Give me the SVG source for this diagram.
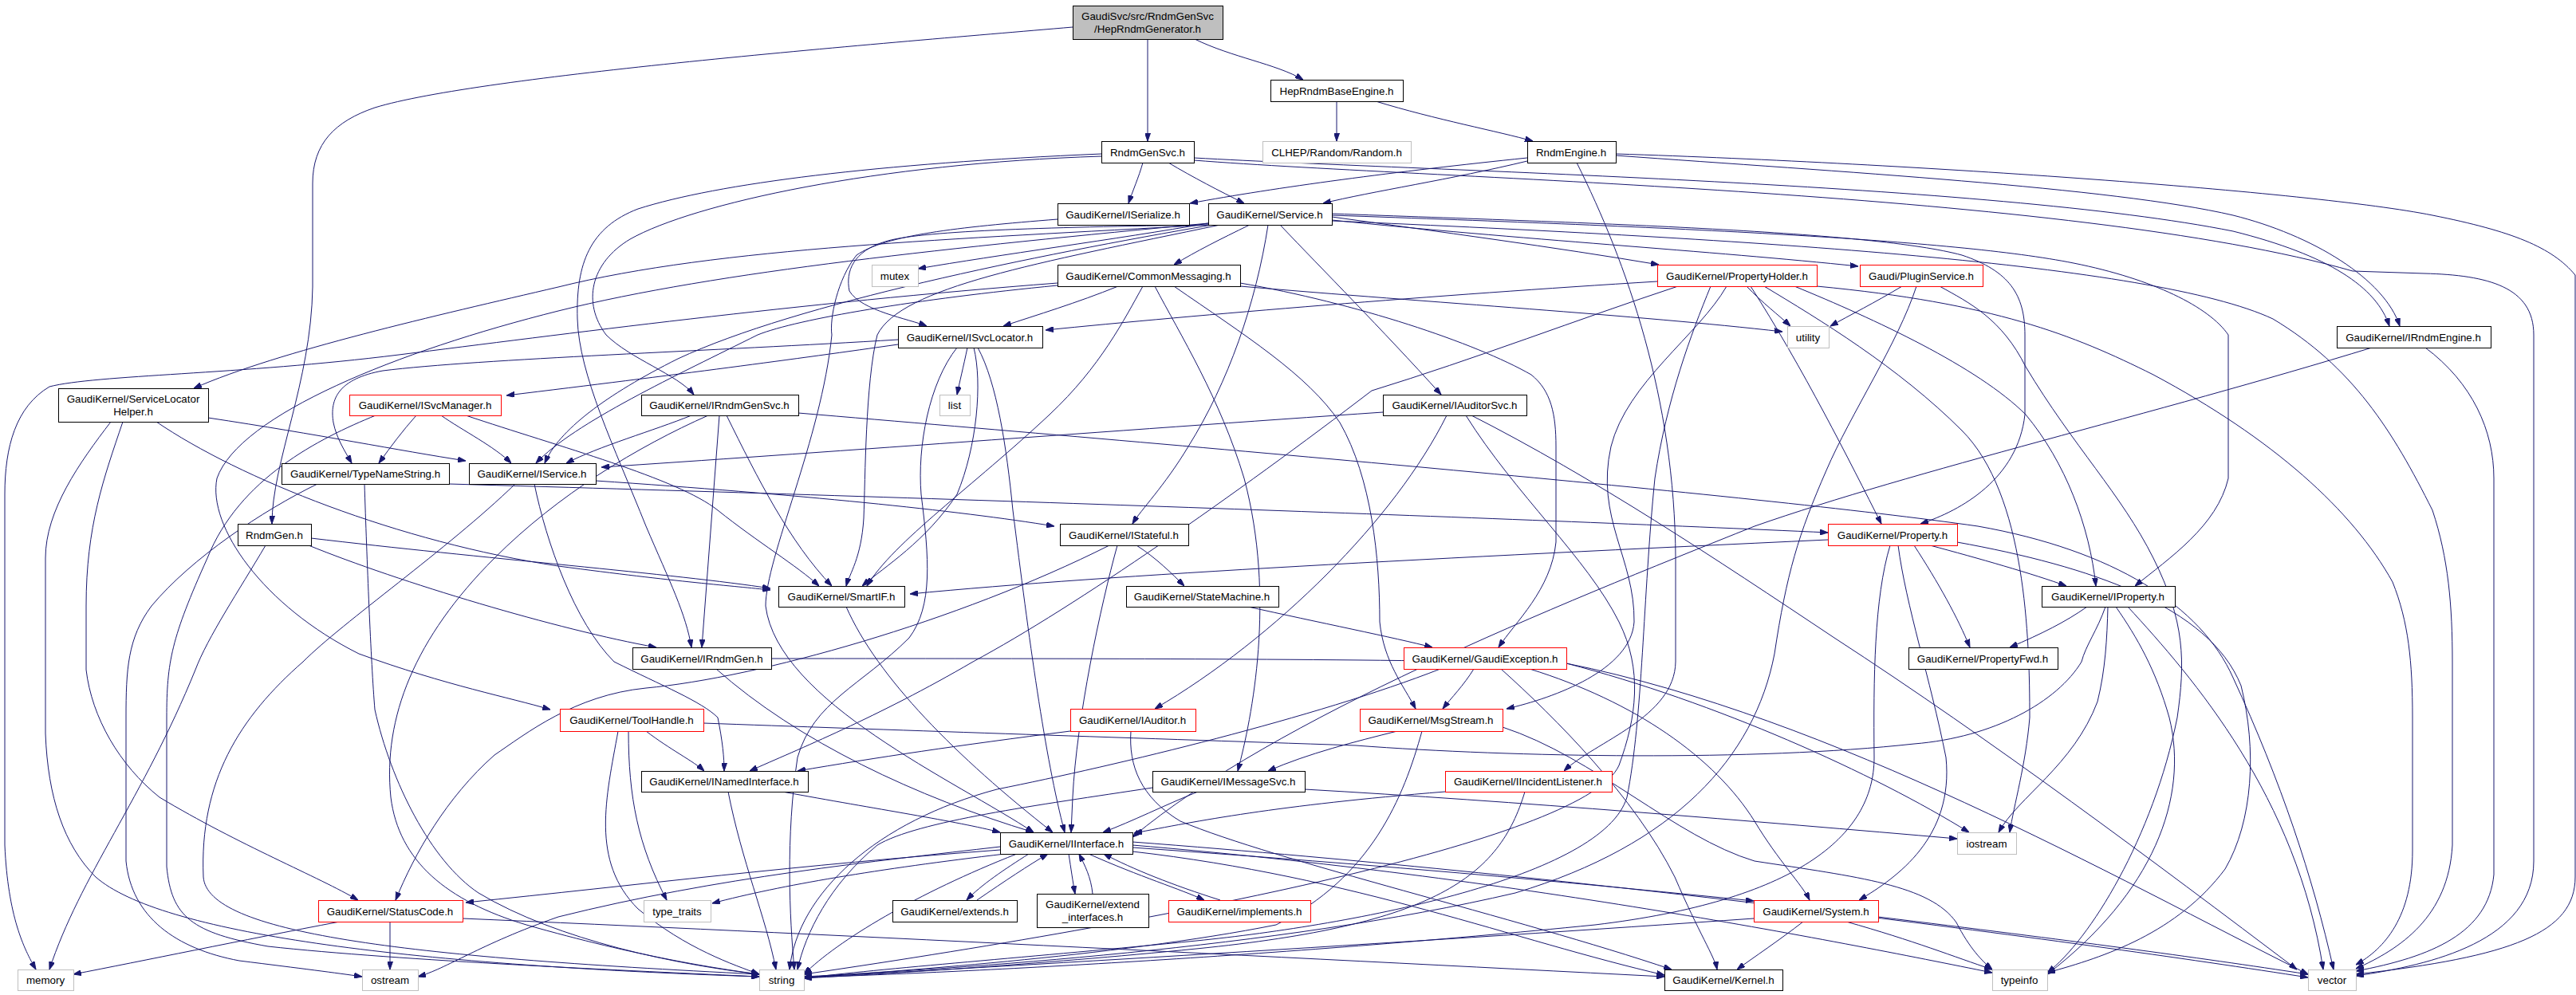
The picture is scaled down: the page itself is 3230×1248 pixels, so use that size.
<svg xmlns="http://www.w3.org/2000/svg" width="3230" height="1248" viewBox="0 0 3230 1248">
<defs>
<marker id="a" viewBox="0 0 10 7" refX="10" refY="3.5" markerWidth="10" markerHeight="7" markerUnits="userSpaceOnUse" orient="auto"><path d="M0,0L10,3.5L0,7z" fill="#191970" stroke="#191970" stroke-width="1"/></marker>
</defs>
<style>
.e path{fill:none;stroke:#191970;stroke-width:1;marker-end:url(#a)}
.e path.p{marker-end:none}
.n rect{fill:#fff;stroke:#000;stroke-width:1}
.n.r rect{stroke:#f00}
.n.g rect{stroke:#bfbfbf}
.n.m rect{fill:#bfbfbf}
.n text{font-family:"Liberation Sans",Arial,sans-serif;font-size:13.33px;text-anchor:middle;fill:#000}
</style>
<rect x="0" y="0" width="3230" height="1248" fill="#fff"/>
<g id="edges" class="e">
<path d="M1345,34 C1100,55 600,95 470,135 C420,152 392,180 392,230 L392,360 C390,480 341,580 341,657"/>
<path d="M1439,49 L1439,177"/>
<path d="M1498,49 C1545,72 1600,80 1634,100"/>
<path d="M1676,127 L1676,177"/>
<path d="M1725,127 C1800,150 1880,165 1922,177"/>
<path d="M1433,204 C1428,222 1420,240 1415,255"/>
<path d="M1465,204 C1495,222 1530,240 1560,255"/>
<path d="M1381,196 C1100,205 870,255 790,300 C740,330 730,380 760,420 C790,450 850,470 870,495"/>
<path d="M1381,193 C1100,205 900,230 800,262 C740,285 722,330 724,400 C726,470 770,560 810,660 C840,730 860,770 867,812"/>
<path d="M1497,198 C1800,215 2500,230 2800,290 C2920,320 2980,360 2996,409"/>
<path d="M1497,201 C1800,225 2600,240 2950,340 L3040,343 C3120,345 3177,360 3177,420 L3177,1080 C3177,1180 3050,1210 2954,1224"/>
<path d="M1915,198 C1750,215 1600,235 1492,255"/>
<path d="M1915,202 C1820,225 1720,240 1659,255"/>
<path d="M2026,195 C2300,215 2650,235 2800,270 C2900,295 2990,350 3009,409"/>
<path d="M2026,193 C2400,205 2900,240 3050,270 C3150,290 3200,310 3229,345 L3229,1100 C3229,1170 3150,1200 2954,1222"/>
<path d="M1977,204 C2040,330 2100,500 2101,700 L2101,830 C2100,900 2000,930 1961,967"/>
<path d="M1515,280 C1400,300 1250,320 1151,337"/>
<path d="M1567,282 C1530,300 1500,315 1472,332"/>
<path d="M1515,282 C1200,300 900,310 700,360 C550,395 350,440 243,487"/>
<path d="M1515,282 C1300,285 1150,290 1110,303 C1070,315 1060,340 1065,365 C1080,390 1140,400 1162,409"/>
<path d="M1520,282 C1300,320 1000,380 850,450 C760,495 700,540 683,581"/>
<path d="M1530,282 C1300,330 1130,360 1100,420 C1085,480 1085,600 1083,650 C1080,700 1065,720 1061,735"/>
<path d="M1590,282 C1575,380 1540,480 1490,560 C1460,610 1430,640 1420,657"/>
<path d="M1605,282 C1660,340 1730,410 1807,495"/>
<path d="M1670,272 C1800,290 1950,310 2080,332"/>
<path d="M1670,276 C1900,300 2150,315 2330,334"/>
<path d="M1670,268 C2000,280 2350,290 2460,320 C2520,340 2539,370 2539,420 L2539,520 C2530,600 2460,640 2408,657"/>
<path d="M1670,270 C2100,285 2450,300 2600,330 C2700,350 2770,385 2794,420 L2794,600 C2780,660 2720,700 2677,735"/>
<path d="M1515,280 C1200,310 900,340 700,390 C500,440 300,520 272,600 C260,660 330,760 450,820 C560,860 640,875 690,890"/>
<path d="M1670,277 C2200,300 2700,330 2850,400 C2950,460 3000,540 3050,640 C3070,700 3075,760 3075,830 L3075,1060 C3070,1150 3010,1190 2954,1215"/>
<path d="M1326,275 C1200,285 1110,295 1074,320 C1050,350 1040,400 1043,420 C1030,550 960,700 960,760 C975,880 1200,980 1296,1044"/>
<path d="M1402,359 C1350,380 1300,395 1258,409"/>
<path d="M1326,358 C1150,375 1000,400 950,420 C850,470 720,530 672,581"/>
<path d="M1433,359 C1410,400 1380,460 1316,520 C1220,610 1120,680 1087,735"/>
<path d="M1448,359 C1480,420 1530,500 1560,600 C1600,750 1570,900 1552,967"/>
<path d="M1472,359 C1560,420 1640,470 1680,530 C1720,600 1730,700 1730,780 C1735,830 1760,860 1775,889"/>
<path d="M1555,355 C1700,380 1850,430 1920,470 C1945,490 1951,520 1951,560 L1951,680 C1945,740 1900,780 1879,812"/>
<path d="M1555,359 C1800,380 2050,395 2235,416"/>
<path d="M1326,355 C1000,380 700,420 500,445 C300,470 120,470 62,485 C20,510 6,560 6,620 L6,1060 C10,1150 30,1190 45,1216"/>
<path d="M2078,353 C1800,370 1500,395 1311,414"/>
<path d="M2190,359 C2210,380 2230,395 2245,409"/>
<path d="M2195,359 C2260,460 2320,580 2359,657"/>
<path d="M2250,359 C2350,400 2480,460 2540,520 C2590,580 2620,660 2628,735"/>
<path d="M2165,359 C2130,420 2040,480 2020,560 C2000,650 2050,700 2049,780 C2045,840 1950,875 1889,889"/>
<path d="M2104,359 C1980,400 1850,450 1720,490 C1550,620 1350,760 1220,830 C1100,900 1000,940 940,967"/>
<path d="M2278,359 C2500,380 2600,420 2700,470 C2850,550 2950,640 3000,730 C3020,780 3025,830 3025,900 L3025,1067 C3025,1150 2990,1190 2954,1210"/>
<path d="M2145,359 C2120,420 2090,500 2075,600 C2060,750 2060,900 2040,1000 C2010,1100 1700,1160 1500,1180 C1300,1200 1100,1215 1008,1227"/>
<path d="M2212,359 C2280,400 2380,460 2460,540 C2540,620 2545,800 2545,900 C2540,960 2525,1010 2520,1044"/>
<path d="M2385,359 C2350,380 2320,395 2295,409"/>
<path d="M2432,359 C2470,380 2510,400 2540,460 C2600,560 2660,620 2700,700 C2740,780 2740,830 2730,900 C2700,1050 2620,1180 2567,1220"/>
<path d="M2403,359 C2380,430 2320,520 2290,590 C2255,670 2240,720 2225,820 C2200,950 2100,1060 1900,1120 C1600,1190 1200,1215 1008,1225"/>
<path d="M1126,432 C1000,450 850,470 635,496"/>
<path d="M1126,426 C900,440 600,450 480,465 C425,475 413,500 418,530 C422,550 432,565 441,581"/>
<path d="M1213,436 C1208,460 1203,480 1200,495"/>
<path d="M1221,436 C1232,480 1225,560 1200,620 C1160,680 1110,710 1081,735"/>
<path d="M1226,436 C1250,480 1262,560 1270,640 C1290,800 1310,950 1335,1044"/>
<path d="M1200,436 C1165,480 1150,560 1155,620 C1165,700 1170,760 1140,800 C1080,860 1020,880 1000,950 C985,1050 990,1150 996,1216"/>
<path d="M522,521 C505,540 490,560 475,581"/>
<path d="M553,521 C580,540 620,560 641,581"/>
<path d="M584,521 C700,560 850,600 900,640 C950,680 1000,710 1027,735"/>
<path d="M471,521 C400,550 300,600 260,700 C215,800 209,830 209,900 L209,1087 C215,1150 240,1170 336,1187 C500,1205 800,1218 952,1225"/>
<path d="M261,524 C400,545 500,565 584,578"/>
<path d="M196,529 C300,600 500,680 700,710 C850,730 920,735 966,740"/>
<path d="M154,529 C130,600 108,660 108,760 L108,840 C115,900 150,960 200,1000 C300,1060 400,1100 449,1129"/>
<path d="M139,529 C100,580 57,640 57,700 L57,920 C60,1000 80,1060 120,1100 C200,1170 500,1210 952,1225"/>
<path d="M902,521 L880,812"/>
<path d="M867,521 C820,540 750,560 710,581"/>
<path d="M911,521 C950,600 990,680 1043,735"/>
<path d="M888,521 C800,560 700,620 620,700 C520,800 480,900 490,1000 C500,1080 560,1130 660,1160 C800,1200 900,1215 952,1222"/>
<path d="M1001,518 C1500,560 2200,620 2480,660 C2650,690 2760,760 2800,850 C2860,980 2900,1100 2926,1216"/>
<path d="M563,607 C1200,625 1900,650 2292,668"/>
<path d="M398,607 C330,640 240,700 190,760 C160,800 158,840 158,900 L158,1080 C165,1150 220,1190 300,1205 C380,1215 420,1220 454,1225"/>
<path d="M457,607 C460,700 465,830 470,890 C490,980 540,1080 600,1120 C700,1180 850,1210 952,1222"/>
<path d="M747,603 C1000,620 1200,640 1322,660"/>
<path d="M670,607 C685,680 720,780 770,830 C830,860 880,880 900,900 C906,930 908,950 908,967"/>
<path d="M646,607 C560,690 430,780 380,830 C300,900 250,980 255,1100 C260,1170 500,1200 952,1222"/>
<path d="M387,684 C500,730 700,790 823,812"/>
<path d="M390,675 C600,700 850,720 966,738"/>
<path d="M333,684 C300,740 260,800 245,840 C180,1000 100,1100 62,1216"/>
<path d="M1734,517 C1400,540 1000,570 754,586"/>
<path d="M1814,521 C1750,650 1600,800 1448,889"/>
<path d="M1838,521 C1900,620 1990,700 2030,780 C2060,840 2052,900 2030,960 C1990,1050 1500,1150 1008,1222"/>
<path d="M1845,521 C2000,600 2150,700 2300,800 C2500,930 2700,1080 2880,1216"/>
<path d="M1401,684 C1380,760 1350,900 1345,1000 L1343,1044"/>
<path d="M1425,684 C1450,700 1470,720 1485,735"/>
<path d="M1391,684 C1200,780 950,850 810,863 C720,872 660,920 620,947 C560,1000 520,1070 496,1129"/>
<path d="M1565,761 C1650,780 1750,800 1796,812"/>
<path d="M2292,677 C1800,700 1400,720 1141,745"/>
<path d="M2420,684 C2480,700 2550,720 2591,735"/>
<path d="M2400,684 C2430,730 2455,775 2470,812"/>
<path d="M2370,684 C2350,750 2349,850 2350,950 C2350,1050 2250,1130 2000,1160 C1600,1200 1200,1220 1008,1226"/>
<path d="M2454,680 C2620,710 2770,760 2810,860 C2830,940 2825,1030 2790,1090 C2730,1170 2640,1200 2567,1220"/>
<path d="M2380,684 C2390,760 2420,850 2440,950 C2450,1050 2380,1100 2331,1129"/>
<path d="M1848,839 C1835,860 1820,875 1809,889"/>
<path d="M1882,839 C1950,900 2050,1000 2100,1100 C2130,1170 2150,1200 2153,1216"/>
<path d="M1918,839 C2050,880 2150,950 2200,1030 C2230,1080 2260,1110 2269,1129"/>
<path d="M1964,832 C2150,880 2350,970 2469,1044"/>
<path d="M1806,839 C1650,900 1400,960 1250,990 C1100,1030 1000,1120 990,1216"/>
<path d="M1752,917 C1700,930 1640,945 1590,967"/>
<path d="M1783,917 C1760,1000 1720,1100 1600,1160 C1400,1200 1100,1220 1008,1226"/>
<path d="M1884,912 C2000,950 2100,1050 2200,1080 C2330,1100 2420,1110 2453,1157 C2470,1190 2485,1205 2498,1216"/>
<path d="M1502,993 C1460,1010 1420,1030 1383,1044"/>
<path d="M1445,988 C1300,1010 1150,1030 1100,1060 C1040,1110 1010,1170 1000,1216"/>
<path d="M1636,990 C1900,1005 2200,1030 2454,1052"/>
<path d="M1812,993 C1600,1010 1500,1030 1422,1045"/>
<path d="M1912,993 C1880,1100 1800,1160 1500,1190 C1300,1210 1100,1222 1008,1227"/>
<path d="M1342,917 C1200,935 1100,950 1000,967"/>
<path d="M1418,917 C1415,960 1430,1000 1480,1030 C1600,1080 1900,1150 2096,1216"/>
<path d="M810,917 C840,940 870,955 883,967"/>
<path d="M775,917 C760,1000 740,1080 800,1140 C860,1190 920,1210 952,1222"/>
<path d="M788,917 C788,1000 800,1060 836,1129"/>
<path d="M981,993 C1100,1015 1200,1030 1254,1044"/>
<path d="M913,993 C930,1080 960,1150 973,1216"/>
<path d="M1061,761 C1100,850 1200,950 1320,1044"/>
<path d="M898,839 C1000,930 1150,1000 1296,1044"/>
<path d="M967,826 C1400,826 1700,826 1964,832 C2300,900 2650,1100 2894,1222"/>
<path d="M1254,1066 C1000,1085 800,1110 584,1132"/>
<path d="M1260,1071 C1100,1090 980,1110 893,1133"/>
<path d="M1254,1062 C1100,1080 900,1100 700,1150 C600,1185 560,1215 524,1225"/>
<path d="M1275,1071 C1150,1120 1050,1180 1008,1222"/>
<path d="M1290,1071 C1260,1090 1230,1110 1212,1129"/>
<path d="M1225,1129 C1260,1105 1290,1085 1314,1071"/>
<path d="M1340,1071 C1343,1090 1345,1105 1348,1121"/>
<path d="M1370,1121 C1368,1100 1360,1085 1353,1071"/>
<path d="M1365,1071 C1430,1100 1480,1115 1510,1129"/>
<path d="M1530,1129 C1470,1110 1420,1090 1384,1071"/>
<path d="M1420,1063 C1800,1090 2000,1110 2199,1130"/>
<path d="M1420,1068 C1700,1100 1900,1180 2087,1223"/>
<path d="M1420,1060 C1900,1100 2300,1180 2498,1220"/>
<path d="M1420,1056 C2000,1100 2600,1180 2894,1226"/>
<path d="M426,1156 C300,1180 180,1205 92,1222"/>
<path d="M489,1156 L489,1216"/>
<path d="M580,1152 C1000,1170 1600,1200 2087,1225"/>
<path d="M2261,1156 C2230,1180 2200,1200 2178,1216"/>
<path d="M2199,1152 C1800,1180 1300,1210 1008,1226"/>
<path d="M2315,1156 C2400,1180 2450,1200 2498,1216"/>
<path d="M2355,1150 C2600,1180 2750,1200 2894,1222"/>
<path d="M2617,761 C2590,780 2560,795 2520,812"/>
<path class="p" d="M2640,761 C2630,790 2615,810 2610,830 C2580,880 2500,925 2400,933 C2200,955 1900,950 1700,935 C1400,925 1100,915 882,907"/>
<path d="M2643,761 C2642,800 2640,840 2630,880 C2600,960 2530,1000 2506,1044"/>
<path d="M2653,761 C2680,800 2703,840 2720,900 C2745,1000 2700,1120 2567,1222"/>
<path d="M2668,761 C2750,850 2880,1000 2913,1216"/>
<path d="M2974,436 C2700,520 2400,590 2200,660 C1950,760 1600,900 1420,1050"/>
<path d="M3041,436 C3100,480 3127,540 3127,600 L3127,1097 C3120,1170 3050,1200 2954,1218"/>
</g>
<g id="n_main" class="n m"><rect x="1345.5" y="7.5" width="188" height="42"/><text x="1439" y="24.5">GaudiSvc/src/RndmGenSvc</text><text x="1439" y="40.5">/HepRndmGenerator.h</text></g>
<g id="n_rgs" class="n"><rect x="1381.5" y="177.5" width="116" height="27"/><text x="1439" y="195.5">RndmGenSvc.h</text></g>
<g id="n_hrbe" class="n"><rect x="1593.5" y="100.5" width="166" height="27"/><text x="1676" y="118.5">HepRndmBaseEngine.h</text></g>
<g id="n_clhep" class="n g"><rect x="1583.5" y="177.5" width="186" height="27"/><text x="1676" y="195.5">CLHEP/Random/Random.h</text></g>
<g id="n_re" class="n"><rect x="1915.5" y="177.5" width="111" height="27"/><text x="1970" y="195.5">RndmEngine.h</text></g>
<g id="n_iser" class="n"><rect x="1326.5" y="255.5" width="165" height="27"/><text x="1408" y="273.5">GaudiKernel/ISerialize.h</text></g>
<g id="n_svc" class="n"><rect x="1515.5" y="255.5" width="155" height="27"/><text x="1592" y="273.5">GaudiKernel/Service.h</text></g>
<g id="n_mutex" class="n g"><rect x="1093.5" y="332.5" width="58" height="27"/><text x="1122" y="350.5">mutex</text></g>
<g id="n_cm" class="n"><rect x="1326.5" y="332.5" width="229" height="27"/><text x="1440" y="350.5">GaudiKernel/CommonMessaging.h</text></g>
<g id="n_ph" class="n r"><rect x="2078.5" y="332.5" width="200" height="27"/><text x="2178" y="350.5">GaudiKernel/PropertyHolder.h</text></g>
<g id="n_ps" class="n r"><rect x="2332.5" y="332.5" width="154" height="27"/><text x="2409" y="350.5">Gaudi/PluginService.h</text></g>
<g id="n_isl" class="n"><rect x="1126.5" y="409.5" width="181" height="27"/><text x="1216" y="427.5">GaudiKernel/ISvcLocator.h</text></g>
<g id="n_util" class="n g"><rect x="2241.5" y="409.5" width="52" height="27"/><text x="2267" y="427.5">utility</text></g>
<g id="n_ire" class="n"><rect x="2930.5" y="409.5" width="193" height="27"/><text x="3026" y="427.5">GaudiKernel/IRndmEngine.h</text></g>
<g id="n_slh" class="n"><rect x="73.5" y="487.5" width="188" height="42"/><text x="167" y="504.5">GaudiKernel/ServiceLocator</text><text x="167" y="520.5">Helper.h</text></g>
<g id="n_ism" class="n r"><rect x="438.5" y="495.5" width="190" height="26"/><text x="533" y="513">GaudiKernel/ISvcManager.h</text></g>
<g id="n_irgs" class="n"><rect x="804.5" y="495.5" width="197" height="26"/><text x="902" y="513">GaudiKernel/IRndmGenSvc.h</text></g>
<g id="n_list" class="n g"><rect x="1178.5" y="495.5" width="38" height="26"/><text x="1197" y="513">list</text></g>
<g id="n_ias" class="n"><rect x="1734.5" y="495.5" width="180" height="26"/><text x="1824" y="513">GaudiKernel/IAuditorSvc.h</text></g>
<g id="n_tns" class="n"><rect x="353.5" y="581.5" width="210" height="26"/><text x="458" y="599">GaudiKernel/TypeNameString.h</text></g>
<g id="n_is" class="n"><rect x="588.5" y="581.5" width="159" height="26"/><text x="667" y="599">GaudiKernel/IService.h</text></g>
<g id="n_rg" class="n"><rect x="298.5" y="657.5" width="92" height="27"/><text x="344" y="675.5">RndmGen.h</text></g>
<g id="n_istf" class="n"><rect x="1329.5" y="657.5" width="161" height="27"/><text x="1409" y="675.5">GaudiKernel/IStateful.h</text></g>
<g id="n_prop" class="n r"><rect x="2292.5" y="657.5" width="162" height="27"/><text x="2373" y="675.5">GaudiKernel/Property.h</text></g>
<g id="n_sif" class="n"><rect x="976.5" y="735.5" width="158" height="26"/><text x="1055" y="753">GaudiKernel/SmartIF.h</text></g>
<g id="n_sm" class="n"><rect x="1412.5" y="735.5" width="191" height="26"/><text x="1507" y="753">GaudiKernel/StateMachine.h</text></g>
<g id="n_iprop" class="n"><rect x="2560.5" y="735.5" width="167" height="26"/><text x="2643" y="753">GaudiKernel/IProperty.h</text></g>
<g id="n_irg" class="n"><rect x="793.5" y="812.5" width="174" height="27"/><text x="880" y="830.5">GaudiKernel/IRndmGen.h</text></g>
<g id="n_ge" class="n r"><rect x="1760.5" y="812.5" width="204" height="27"/><text x="1862" y="830.5">GaudiKernel/GaudiException.h</text></g>
<g id="n_pf" class="n"><rect x="2393.5" y="812.5" width="187" height="27"/><text x="2486" y="830.5">GaudiKernel/PropertyFwd.h</text></g>
<g id="n_th" class="n r"><rect x="702.5" y="889.5" width="180" height="28"/><text x="792" y="908">GaudiKernel/ToolHandle.h</text></g>
<g id="n_ia" class="n r"><rect x="1342.5" y="889.5" width="157" height="28"/><text x="1420" y="908">GaudiKernel/IAuditor.h</text></g>
<g id="n_ms" class="n r"><rect x="1705.5" y="889.5" width="179" height="28"/><text x="1794" y="908">GaudiKernel/MsgStream.h</text></g>
<g id="n_ini" class="n"><rect x="804.5" y="967.5" width="209" height="26"/><text x="908" y="985">GaudiKernel/INamedInterface.h</text></g>
<g id="n_ims" class="n"><rect x="1445.5" y="967.5" width="191" height="26"/><text x="1540" y="985">GaudiKernel/IMessageSvc.h</text></g>
<g id="n_iil" class="n r"><rect x="1812.5" y="967.5" width="209" height="26"/><text x="1916" y="985">GaudiKernel/IIncidentListener.h</text></g>
<g id="n_ii" class="n"><rect x="1254.5" y="1044.5" width="166" height="27"/><text x="1337" y="1062.5">GaudiKernel/IInterface.h</text></g>
<g id="n_iostream" class="n g"><rect x="2454.5" y="1044.5" width="74" height="27"/><text x="2491" y="1062.5">iostream</text></g>
<g id="n_sc" class="n r"><rect x="399.5" y="1129.5" width="181" height="27"/><text x="489" y="1147.5">GaudiKernel/StatusCode.h</text></g>
<g id="n_tt" class="n g"><rect x="807.5" y="1129.5" width="84" height="27"/><text x="849" y="1147.5">type_traits</text></g>
<g id="n_ext" class="n"><rect x="1119.5" y="1129.5" width="156" height="27"/><text x="1197" y="1147.5">GaudiKernel/extends.h</text></g>
<g id="n_exti" class="n"><rect x="1300.5" y="1121.5" width="140" height="42"/><text x="1370" y="1138.5">GaudiKernel/extend</text><text x="1370" y="1154.5">_interfaces.h</text></g>
<g id="n_impl" class="n r"><rect x="1465.5" y="1129.5" width="178" height="27"/><text x="1554" y="1147.5">GaudiKernel/implements.h</text></g>
<g id="n_sys" class="n r"><rect x="2199.5" y="1129.5" width="156" height="27"/><text x="2277" y="1147.5">GaudiKernel/System.h</text></g>
<g id="n_memory" class="n g"><rect x="22.5" y="1216.5" width="70" height="26"/><text x="57" y="1234">memory</text></g>
<g id="n_ostream" class="n g"><rect x="454.5" y="1216.5" width="70" height="26"/><text x="489" y="1234">ostream</text></g>
<g id="n_string" class="n g"><rect x="952.5" y="1216.5" width="56" height="26"/><text x="980" y="1234">string</text></g>
<g id="n_kernel" class="n"><rect x="2087.5" y="1216.5" width="148" height="26"/><text x="2161" y="1234">GaudiKernel/Kernel.h</text></g>
<g id="n_typeinfo" class="n g"><rect x="2498.5" y="1216.5" width="69" height="26"/><text x="2532" y="1234">typeinfo</text></g>
<g id="n_vector" class="n g"><rect x="2894.5" y="1216.5" width="60" height="26"/><text x="2924" y="1234">vector</text></g>
</svg>
